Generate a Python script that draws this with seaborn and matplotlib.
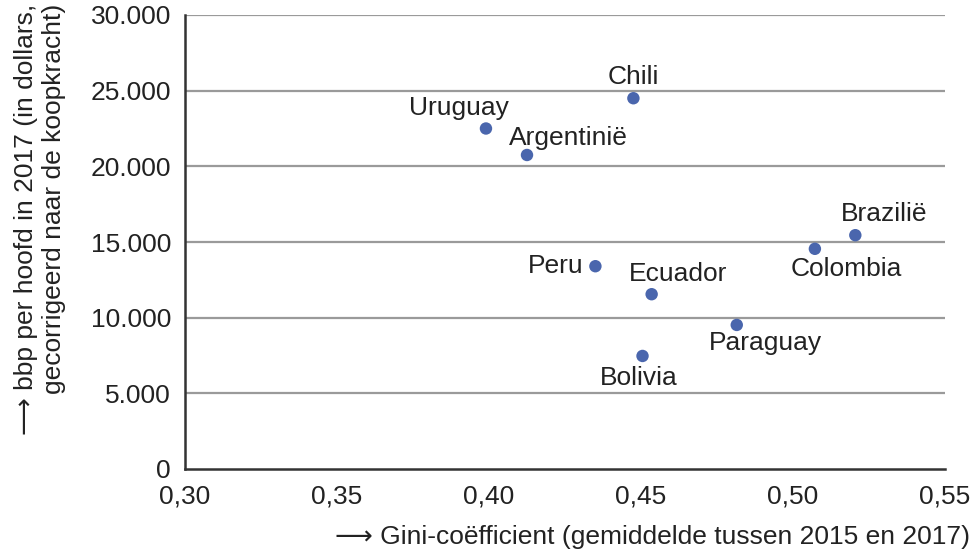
import numpy as np
import pandas as pd
import seaborn as sns
import matplotlib.pyplot as plt
from matplotlib.ticker import FuncFormatter

# Values
countries = ['Uruguay', 'Argentinië', 'Chili', 'Peru', 'Ecuador',
             'Bolivia', 'Paraguay', 'Colombia', 'Brazilië']
gini = [0.399, 0.4125, 0.4475, 0.435, 0.4535, 0.4505, 0.4815, 0.5072, 0.5205]
bbp = [22500, 20750, 24500, 13400, 11550, 7470, 9520, 14550, 15450]

x_ticks = [0.30, 0.35, 0.40, 0.45, 0.50, 0.55]
y_ticks = [0, 5000, 10000, 15000, 20000, 25000, 30000]

x_label = '\u27f6 Gini-coëfficient (gemiddelde tussen 2015 en 2017)'
y_label = ('\u27f6 bbp per hoofd in 2017 (in dollars,\n'
           'gecorrigeerd naar de koopkracht)')

df = pd.DataFrame({'land': countries, 'gini': gini, 'bbp': bbp})

# label offsets in pixels (dx, dy, ha)
label_pos = {
    'Uruguay': (-27, 21, 'center'),
    'Argentinië': (41, 17, 'center'),
    'Chili': (0, 21, 'center'),
    'Peru': (-12, 0, 'right'),
    'Ecuador': (26, 20, 'center'),
    'Bolivia': (-4, -22, 'center'),
    'Paraguay': (29, -18, 'center'),
    'Colombia': (31, -20, 'center'),
    'Brazilië': (29, 21, 'center'),
}

sns.set_style('white')
fonts = ['Liberation Sans', 'DejaVu Sans']
plt.rcParams['font.family'] = fonts
fs = 19
plt.rcParams['font.size'] = fs
plt.rcParams['text.color'] = '#222222'

fig = plt.figure(figsize=(9.75, 5.57), dpi=100)
ax = fig.add_axes([185 / 975, 1 - 469 / 557, 760 / 975, 454 / 557])

for yv in y_ticks[1:]:
    ax.axhline(yv, color='#9a9a9a', lw=1.6, zorder=0)

sns.scatterplot(data=df, x='gini', y='bbp', ax=ax, color='#4a66ad',
                s=80, edgecolor='none', zorder=3, legend=False)

for name, xv, yv in zip(countries, gini, bbp):
    dx, dy, ha = label_pos[name]
    ax.annotate(name, (xv, yv), xytext=(dx, dy), textcoords='offset pixels',
                ha=ha, va='center', fontsize=fs, color='#222222')

ax.set_xlim(0.30, 0.55)
ax.set_ylim(0, 30000)
ax.set_xticks(x_ticks)
ax.set_yticks(y_ticks)
ax.xaxis.set_major_formatter(FuncFormatter(lambda v, p: f'{v:.2f}'.replace('.', ',')))
ax.yaxis.set_major_formatter(FuncFormatter(lambda v, p: f'{int(v):,}'.replace(',', '.')))
ax.tick_params(axis='both', direction='out', length=7, width=1.5,
               color='#333333', labelsize=fs, labelcolor='#222222', pad=4)
ax.tick_params(axis='y', pad=3)

for side in ['top', 'right']:
    ax.spines[side].set_visible(False)
for side in ['left', 'bottom']:
    ax.spines[side].set_color('#333333')
    ax.spines[side].set_linewidth(1.8)

ax.set_xlabel('')
ax.set_ylabel('')
fig.text(970 / 975, 1 - 537 / 557, x_label, ha='right', va='center',
         fontsize=fs, color='#222222')
fig.text(40 / 975, 1 - 4 / 557, y_label, ha='center', va='top',
         rotation=90, multialignment='right', fontsize=fs,
         color='#222222', linespacing=1.2)

fig.savefig('out.png', dpi=100)
